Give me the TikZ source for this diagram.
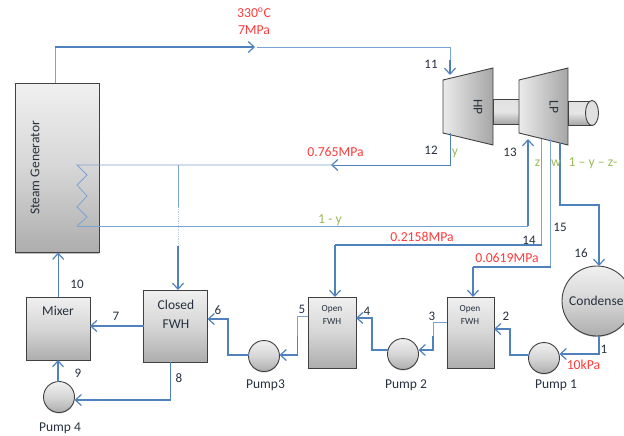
\documentclass[tikz,border=0pt]{standalone}
\usepackage{fontspec}
\setmainfont{Carlito}
\usetikzlibrary{arrows.meta,shadows}
\definecolor{pipeblue}{HTML}{4F81BD}
\definecolor{thinblue}{HTML}{7BA2D2}
\definecolor{edgegrey}{HTML}{404040}
\definecolor{inktext}{HTML}{26303E}
\definecolor{redtext}{HTML}{FF3B3B}
\definecolor{greentext}{HTML}{9BBB59}
\tikzset{
  unitbody/.style={draw=edgegrey,line width=.9pt,top color=black!6,bottom color=black!32,middle color=black!16,inner sep=0pt,outer sep=0pt,
    drop shadow={shadow xshift=0pt,shadow yshift=-1pt,opacity=.25,fill=black}},
  boxa/.style={unitbody,rectangle},
  pumpc/.style={unitbody,circle,minimum size=31pt},
  turb/.style={draw=edgegrey,line width=.9pt,left color=black!8,right color=black!35},
  shaftbody/.style={draw=edgegrey,line width=.9pt,top color=black!12,bottom color=black!35,middle color=black!10},
  thickpipe/.style={draw=pipeblue,line width=1.4pt},
  thinpipe/.style={draw=thinblue,line width=.8pt},
  tipped/.style={-{Straight Barb[length=6pt,width=11pt,line width=1.2pt]}},
  lblnum/.style={text=inktext,font=\fontsize{13}{14}\selectfont,inner sep=0pt},
  lblname/.style={text=inktext,font=\fontsize{13.5}{14}\selectfont,inner sep=0pt},
  lbltiny/.style={text=inktext,font=\fontsize{9.3}{10}\selectfont,inner sep=0pt},
  lblred/.style={text=redtext,font=\fontsize{13.7}{14}\selectfont,inner sep=0pt},
  lblfrac/.style={text=greentext,font=\fontsize{13.7}{14}\selectfont,inner sep=0pt},
}
\begin{document}
\begin{tikzpicture}[x=1pt,y=-1pt]
\useasboundingbox (0,0) rectangle (624,436);

% units
\node[boxa,minimum width=84pt,minimum height=169pt] (sg) at (57,168) {};
\node[boxa,minimum width=63.5pt,minimum height=63pt] (mixer) at (58.2,328.5) {};
\node[boxa,minimum width=64pt,minimum height=72pt] (closed) at (175.5,326) {};
\node[boxa,minimum width=48pt,minimum height=71pt] (open1) at (332,332.5) {};
\node[boxa,minimum width=47pt,minimum height=71pt] (open2) at (470.5,332.5) {};
\node[pumpc] (pump4) at (59,397) {};
\node[pumpc] (pump3) at (264,356) {};
\node[pumpc] (pump2) at (403,354) {};
\node[pumpc] (pump1) at (544,358) {};
\node[unitbody,circle,minimum size=70pt] (cond) at (597,301) {};

% turbines
\draw[shaftbody] (568,101) rectangle (592,125);
\draw[shaftbody] (493,99) rectangle (519,124);
\draw[turb] (443,80) -- (493,68) -- (493,145) -- (443,133) -- cycle;
\draw[turb] (519,80) -- (568,68) -- (568,145) -- (519,133) -- cycle;
\draw[draw=edgegrey,line width=.9pt,fill=black!12] (592,113) ellipse (6.5 and 12.5);

% named ports
\coordinate (sgout) at (55,83);
\coordinate (corner) at (55,47);
\coordinate (mid) at (255,47);
\coordinate (midb) at (257,47);
\coordinate (hpin) at (450,75);
\coordinate (hpout) at (450,133);
\coordinate (extr) at (331,165);
\coordinate (extrb) at (333,165);
\coordinate (coilt) at (77,165);
\coordinate (coilb) at (77,226);
\coordinate (lpin) at (528,139);
\coordinate (lpcorner) at (528,226);
\coordinate (tee) at (178,165);
\coordinate (fade) at (178,207);
\coordinate (faded) at (178,246);
\coordinate (zout) at (541.7,139);
\coordinate (wout) at (550.6,139);
\coordinate (lout) at (560,143);

% main steam
\draw[thinpipe,line width=1pt] (sgout) -- (corner);
\draw[thickpipe,tipped] (corner) -- (mid);
\draw[thinpipe] (midb) -- (450,47);
\draw[thinpipe,line width=1pt] (450,47) -- (450,60);
\draw[thickpipe,tipped] (450,60) -- (hpin);

% HP extraction and reheater coil
\draw[thinpipe,draw=pipeblue,line width=1pt,tipped] (hpout) |- (extr);
\draw[thinpipe] (extrb) -- (coilt) -- (87,175) -- (77,185) -- (87,196) -- (77,207) -- (87,217) -- (coilb);
\draw[thinpipe] (coilb) -- (lpcorner);
\draw[thickpipe,tipped] (lpcorner) -- (lpin);

% branch to closed FWH
\draw[thinpipe] (tee) -- (fade);
\draw[thinpipe,densely dotted,draw opacity=.55] (fade) -- (faded);
\draw[thickpipe,tipped] (faded) -- (closed.north -| faded);

% LP extractions
\draw[thinpipe] (zout) -- (541.7,245);
\draw[thickpipe,line width=1.1pt] (541.7,245) -- (335,245);
\draw[thickpipe,tipped] (335,245) -- (open1.north -| 335,245);
\draw[thinpipe] (wout) -- (550.6,267);
\draw[thickpipe,line width=1.1pt] (550.6,267) -- (473,267);
\draw[thickpipe,tipped] (473,267) -- (open2.north -| 473,267);
\draw[thickpipe,tipped] (lout) |- (599,205) -- (cond.north -| 599,205);

% feed line
\draw[thickpipe,line width=1.1pt,tipped] (cond.south -| 599,0) |- (pump1.east |- 0,354);
\draw[thickpipe,tipped] (pump1.west |- 0,355) -| (510,329) -- (open2.east |- 0,329);
\draw[thinpipe] (open2.west |- 0,322) -| (433,336);
\draw[thickpipe,line width=1.1pt,tipped] (433,336) |- (pump2.east |- 0,350);
\draw[thickpipe,tipped] (pump2.west |- 0,350) -| (372,318) -- (open1.east |- 0,318);
\draw[thinpipe] (open1.west |- 0,316) -| (297.5,336);
\draw[thickpipe,line width=1.1pt,tipped] (297.5,336) |- (pump3.east |- 0,355);
\draw[thickpipe,tipped] (pump3.west |- 0,355) -| (228,319) -- (closed.east |- 0,319);
\draw[thickpipe,tipped] (closed.west |- 0,326) -- (mixer.east |- 0,326);
\draw[thickpipe,line width=1.1pt,tipped] (closed.south -| 170.5,0) |- (pump4.east |- 0,400);
\draw[thickpipe,tipped] (pump4.north -| 58,0) -- (mixer.south -| 58,0);
\draw[thickpipe,tipped] (mixer.north) -- (sg.south -| mixer.north);

% unit names
\node[lblname,rotate=90] (tsg) at (35,168) {Steam Generator};
\node[lblname,rotate=-90] (thp) at (478,107) {HP};
\node[lblname,rotate=-90] (tlp) at (554,107) {LP};
\node[lblname] (tmixer) at (58,311) {Mixer};
\node[lblname] (tclosed) at (176,305) {Closed};
\node[lblname] (tcfwh) at (176,324) {FWH};
\node[lbltiny] (topen1) at (332,309) {Open};
\node[lbltiny] (tfwh1) at (332,322) {FWH};
\node[lbltiny] (topen2) at (470,309) {Open};
\node[lbltiny] (tfwh2) at (470,322) {FWH};
\node[lblname,anchor=west] (tcond) at (569,301) {Condense};
\node[lblname] (tp1) at (556,385) {Pump 1};
\node[lblname] (tp2) at (406,385) {Pump 2};
\node[lblname] (tp3) at (265.5,385) {Pump3};
\node[lblname] (tp4) at (60,428) {Pump 4};

% state numbers
\node[lblnum] (n1) at (604,349) {1};
\node[lblnum] (n2) at (506,316) {2};
\node[lblnum] (n3) at (432,316) {3};
\node[lblnum] (n4) at (367,311) {4};
\node[lblnum] (n5) at (302,309) {5};
\node[lblnum] (n6) at (218,310) {6};
\node[lblnum] (n7) at (116,316) {7};
\node[lblnum] (n8) at (179,378) {8};
\node[lblnum] (n9) at (78,373) {9};
\node[lblnum] (n10) at (77,284) {10};
\node[lblnum] (n11) at (431,64) {11};
\node[lblnum] (n12) at (431,150) {12};
\node[lblnum] (n13) at (510,152) {13};
\node[lblnum] (n14) at (529,240) {14};
\node[lblnum] (n15) at (560,227) {15};
\node[lblnum] (n16) at (581,253) {16};

% conditions
\node[lblred] (r1) at (254,13) {330\textsuperscript{o}C};
\node[lblred] (r2) at (254,30) {7MPa};
\node[lblred] (r3) at (335.5,152) {0.765MPa};
\node[lblred] (r4) at (422,237) {0.2158MPa};
\node[lblred] (r5) at (507,258) {0.0619MPa};
\node[lblred] (r6) at (583.5,365) {10kPa};

% mass fractions
\node[lblfrac] (fy) at (455,153) {y};
\node[lblfrac] (fz) at (537.5,163) {z};
\node[lblfrac] (fw) at (556,163) {w};
\node[lblfrac] (fr) at (593,163) {1 – y – z-};
\node[lblfrac] (f1y) at (330,220) {1 - y};
\end{tikzpicture}
\end{document}
